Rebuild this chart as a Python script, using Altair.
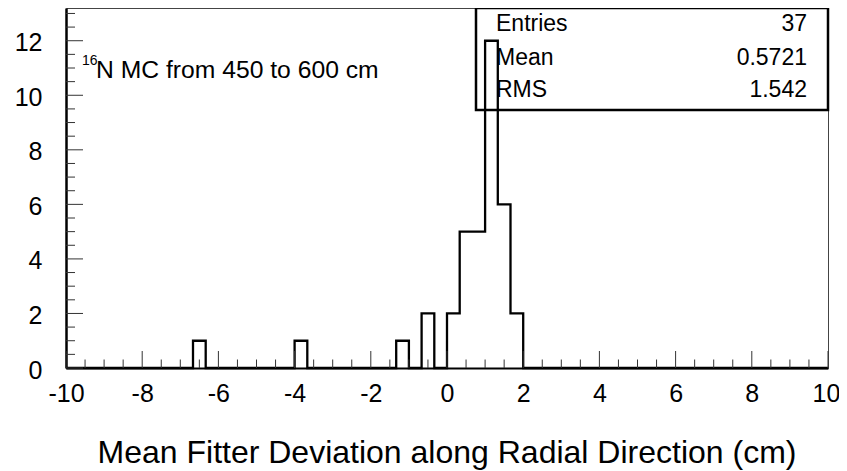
import altair as alt
import pandas as pd

# ---------------- data ----------------
bin_low = [-6.667, -4.0, -1.333, -0.667, 0.0, 0.333, 0.667, 1.0, 1.333, 1.667]
counts = [1, 1, 1, 2, 2, 5, 5, 12, 6, 2]
x_min, x_max, n_bins = -10, 10, 60
x_ticks = [-10, -8, -6, -4, -2, 0, 2, 4, 6, 8, 10]
y_ticks = [0, 2, 4, 6, 8, 10, 12]
stat_names = ["Entries", "Mean", "RMS"]
stat_values = ["37", "0.5721", "1.542"]
label_sup = "16"
label_main = "N MC from 450 to 600 cm"
x_title = "Mean Fitter Deviation along Radial Direction (cm)"

# ---------------- build histogram outline ----------------
bw = (x_max - x_min) / n_bins
full = [0] * n_bins
for lo, c in zip(bin_low, counts):
    full[int(round((lo - x_min) / bw))] = c
edges = [x_min + i * bw for i in range(n_bins + 1)]
hist_df = pd.DataFrame({"x": edges, "count": full + [full[-1]]})

x_minor = [x_min + 0.5 * i for i in range(int((x_max - x_min) / 0.5) + 1)]
x_minor = [v for v in x_minor if v not in x_ticks]
y_minor = [0.5 * i for i in range(0, 27)]
y_minor = [v for v in y_minor if v not in y_ticks]

FONT = "Liberation Sans"
W, H = 762, 360

xscale = alt.Scale(domain=[x_min, x_max], nice=False, zero=False)
yscale = alt.Scale(domain=[0, 13.2], nice=False, zero=True)

xaxis = alt.Axis(values=x_ticks, labelExpr="'' + datum.value", labelFont=FONT,
                 labelFontSize=25, labelColor="black", labelPadding=13,
                 labelOffset=alt.expr("datum.value == 10 ? -2 : 0"),
                 labelFlush=False, labelOverlap=False, labelBound=False,
                 ticks=False, tickSize=0, grid=False, domain=True,
                 domainColor="black", domainWidth=2)
yaxis = alt.Axis(values=y_ticks, labelExpr="'' + datum.value", labelFont=FONT,
                 labelFontSize=25, labelColor="black", labelPadding=24,
                 labelOffset=2, labelFlush=False, labelOverlap=False,
                 labelBound=False, ticks=False, tickSize=0, grid=False,
                 domain=True, domainColor="black", domainWidth=2.5)

# stats box (drawn first, transparent)
box = alt.Chart(pd.DataFrame({"a": [0]})).mark_rect(
    fill="white", fillOpacity=0, stroke="black", strokeWidth=2.5
).encode(x=alt.value(410), x2=alt.value(762), y=alt.value(0), y2=alt.value(102))

hist = alt.Chart(hist_df).mark_line(
    interpolate="step-after", color="black", strokeWidth=2.3
).encode(
    x=alt.X("x:Q", scale=xscale, axis=xaxis, title=None),
    y=alt.Y("count:Q", scale=yscale, axis=yaxis, title=None),
)

def xtick_layer(vals, length):
    return alt.Chart(pd.DataFrame({"v": vals})).mark_rule(
        color="#333", strokeWidth=1
    ).encode(x=alt.X("v:Q", scale=xscale, axis=xaxis, title=None),
             y=alt.value(H), y2=alt.value(H - length))

def ytick_layer(vals, length):
    return alt.Chart(pd.DataFrame({"v": vals})).mark_rule(
        color="#333", strokeWidth=1
    ).encode(y=alt.Y("v:Q", scale=yscale, axis=yaxis, title=None),
             x=alt.value(0), x2=alt.value(length))

layers = [box, hist,
          xtick_layer(x_ticks, 17), xtick_layer(x_minor, 8.5),
          ytick_layer(y_ticks, 17), ytick_layer(y_minor, 9)]

row_y = [23, 57, 89]
for name, val, yy in zip(stat_names, stat_values, row_y):
    d = pd.DataFrame({"n": [name], "v": [val]})
    layers.append(alt.Chart(d).mark_text(
        font=FONT, fontSize=23, align="left", baseline="alphabetic", color="black"
    ).encode(x=alt.value(430), y=alt.value(yy), text="n:N"))
    layers.append(alt.Chart(d).mark_text(
        font=FONT, fontSize=23, align="right", baseline="alphabetic", color="black"
    ).encode(x=alt.value(741), y=alt.value(yy), text="v:N"))

layers.append(alt.Chart(pd.DataFrame({"t": [label_sup]})).mark_text(
    font=FONT, fontSize=14, align="left", baseline="alphabetic", color="black"
).encode(x=alt.value(16), y=alt.value(57), text="t:N"))
layers.append(alt.Chart(pd.DataFrame({"t": [label_main]})).mark_text(
    font=FONT, fontSize=24.7, align="left", baseline="alphabetic", color="black"
).encode(x=alt.value(30), y=alt.value(70), text="t:N"))
layers.append(alt.Chart(pd.DataFrame({"t": [x_title]})).mark_text(
    font=FONT, fontSize=32, align="center", baseline="alphabetic", color="black"
).encode(x=alt.value(W / 2), y=alt.value(455), text="t:N"))

chart = alt.layer(*layers).properties(
    width=W, height=H,
    autosize=alt.AutoSizeParams(type="none"),
    padding={"left": 58, "top": 0, "right": 11, "bottom": 103},
    background="white",
).configure_view(stroke="#444", strokeWidth=1)

chart.save("out.html", embed_options={"renderer": "svg", "actions": False})
